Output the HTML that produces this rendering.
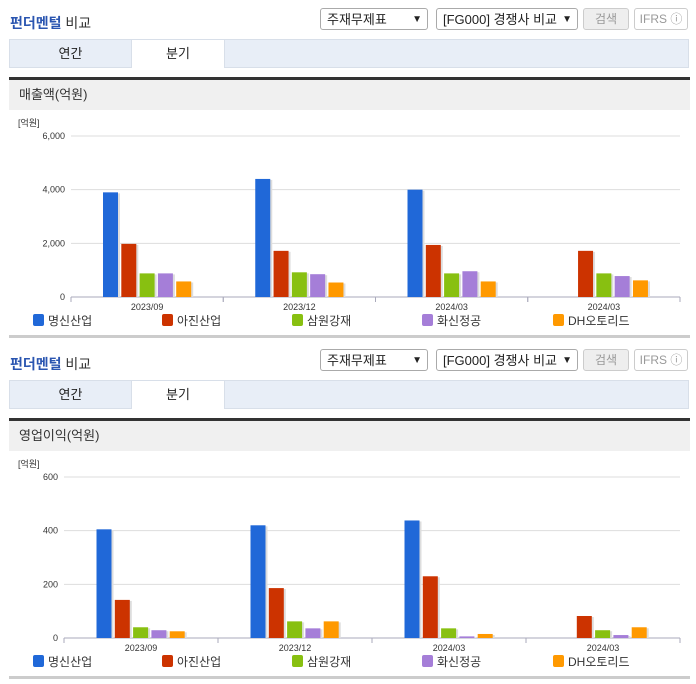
<!DOCTYPE html>
<html><head><meta charset="utf-8">
<style>
body{margin:0;width:696px;height:684px;background:#fff;font-family:"Liberation Sans","Noto Sans CJK KR",sans-serif;position:relative;overflow:hidden}
.abs{position:absolute}
.title{font-size:14px;color:#2a55b0;font-weight:bold;left:10px}
.title span{color:#333;font-weight:normal}
.sel{border:1px solid #aaa;border-radius:3px;background:#fff;font-size:13px;color:#222;height:22px;line-height:22px;padding-left:6px;box-sizing:border-box}
.sel i{position:absolute;right:5px;top:0;font-style:normal;font-size:10px}
.btn{border:1px solid #ccc;border-radius:3px;background:#eee;color:#999;font-size:12px;height:22px;line-height:20px;text-align:center;box-sizing:border-box}
.tabs{left:9px;width:680px;height:29px;background:#e8eef7;border:1px solid #d8dfe9;box-sizing:border-box}
.tab{position:absolute;top:0;height:29px;line-height:28px;font-size:13px;text-align:center;color:#222}
.dark{left:9px;width:681px;height:3px;background:#333}
.hdr{left:9px;width:681px;height:30px;background:#f0f0f0;font-size:13px;line-height:30px;color:#333;text-indent:10px}
.bline{left:9px;width:681px;height:3px;background:#ccc}
svg text{font-family:"Liberation Sans","Noto Sans CJK KR",sans-serif}
</style></head><body>
<div id="blocks"></div>
<script>
const categories=["2023/09","2023/12","2024/03","2024/03"];
const seriesNames=["명신산업","아진산업","삼원강재","화신정공","DH오토리드"];
const colors=["#2068d8","#cc3300","#88c011","#a57ed8","#ff9900"];
const salesTicks=["0","2,000","4,000","6,000"];
const salesTickVals=[0,2000,4000,6000];
const sales=[[3900,4400,4000,null],[1980,1720,1940,1720],[880,920,880,880],[880,850,960,780],[580,540,580,620]];
const opTicks=["0","200","400","600"];
const opTickVals=[0,200,400,600];
const op=[[405,420,438,null],[142,186,230,82],[40,62,36,29],[29,36,6,11],[25,62,15,40]];

const NS="http://www.w3.org/2000/svg";
function mk(tag,attrs,parent){const e=document.createElementNS(NS,tag);for(const k in attrs)e.setAttribute(k,attrs[k]);parent.appendChild(e);return e;}

function block(off,hdrText,data,ticks,tickVals,left,barOff,name){
  const root=document.getElementById('blocks');
  const html=`
  <div class="abs title" style="top:${off+13}px">펀더멘털 <span>비교</span></div>
  <div class="abs sel" style="left:320px;top:${off+8}px;width:108px">주재무제표<i>▼</i></div>
  <div class="abs sel" style="left:436px;top:${off+8}px;width:142px">[FG000] 경쟁사 비교<i>▼</i></div>
  <div class="abs btn" style="left:583px;top:${off+8}px;width:46px">검색</div>
  <div class="abs btn" style="left:634px;top:${off+8}px;width:54px;background:#fff">IFRS ⓘ</div>
  <div class="abs tabs" style="top:${off+39}px">
    <div class="tab" style="left:0;width:121px">연간</div>
    <div class="tab" style="left:121px;width:92px;background:#fff;border-left:1px solid #d8dfe9;border-right:1px solid #d8dfe9;height:28px">분기</div>
  </div>
  <div class="abs dark" style="top:${off+77}px"></div>
  <div class="abs hdr" style="top:${off+80}px">${hdrText}</div>
  <div class="abs bline" style="top:${off+335}px"></div>`;
  const wrap=document.createElement('div');wrap.innerHTML=html;
  while(wrap.firstElementChild)root.appendChild(wrap.firstElementChild);
  const svg=document.createElementNS(NS,'svg');
  svg.setAttribute('width',696);svg.setAttribute('height',220);
  svg.style.position='absolute';svg.style.left='0';svg.style.top=(off+115)+'px';
  
  
  root.appendChild(svg);
  const top=21,bottom=182,right=680,max=tickVals[tickVals.length-1];
  const y=v=>bottom-(v/max)*(bottom-top);
  const gw=(right-left)/categories.length;
  const u=mk('text',{x:18,y:11,'font-size':9,fill:'#333'},svg);u.textContent='[억원]';
  
  tickVals.forEach((tv,i)=>{
    if(i>0){const g=mk('line',{x1:left,x2:right,y1:y(tv),y2:y(tv),stroke:'#ddd'},svg);
      }
    const t=mk('text',{x:left-6,y:y(tv)+3,'font-size':9,fill:'#333','text-anchor':'end'},svg);t.textContent=ticks[i];
    
  });
  const ax=mk('line',{x1:left,x2:right,y1:bottom,y2:bottom,stroke:'#aab'},svg);
  
  categories.forEach((c,ci)=>{
    const gx=left+ci*gw;
    [gx,gx+gw].forEach(xx=>{mk('line',{x1:xx,x2:xx,y1:bottom,y2:bottom+5,stroke:'#aab'},svg);});
    const t=mk('text',{x:gx+gw/2,y:bottom+13,'font-size':9,fill:'#333','text-anchor':'middle'},svg);t.textContent=c;
    
    data.forEach((s,si)=>{
      const v=s[ci];if(v==null)return;
      const bx=gx+barOff+si*18.3;
      mk('rect',{x:bx+2,y:y(v)+1,width:15,height:bottom-y(v)-1,fill:'#ddd'},svg);
      const r=mk('rect',{x:bx,y:y(v),width:15,height:bottom-y(v),fill:colors[si]},svg);
      
      
    });
  });
  const lx=[33,162,292,422,553];
  seriesNames.forEach((n,i)=>{
    const r=mk('rect',{x:lx[i],y:199,width:11,height:12,rx:2,fill:colors[i]},svg);
    
    const t=mk('text',{x:lx[i]+15,y:210,'font-size':12,fill:'#333'},svg);t.textContent=n;
    
  });
}
block(0,"매출액(억원)",sales,salesTicks,salesTickVals,71,32,"sales");
block(341,"영업이익(억원)",op,opTicks,opTickVals,64,32.5,"operating-profit");
</script>
</body></html>
